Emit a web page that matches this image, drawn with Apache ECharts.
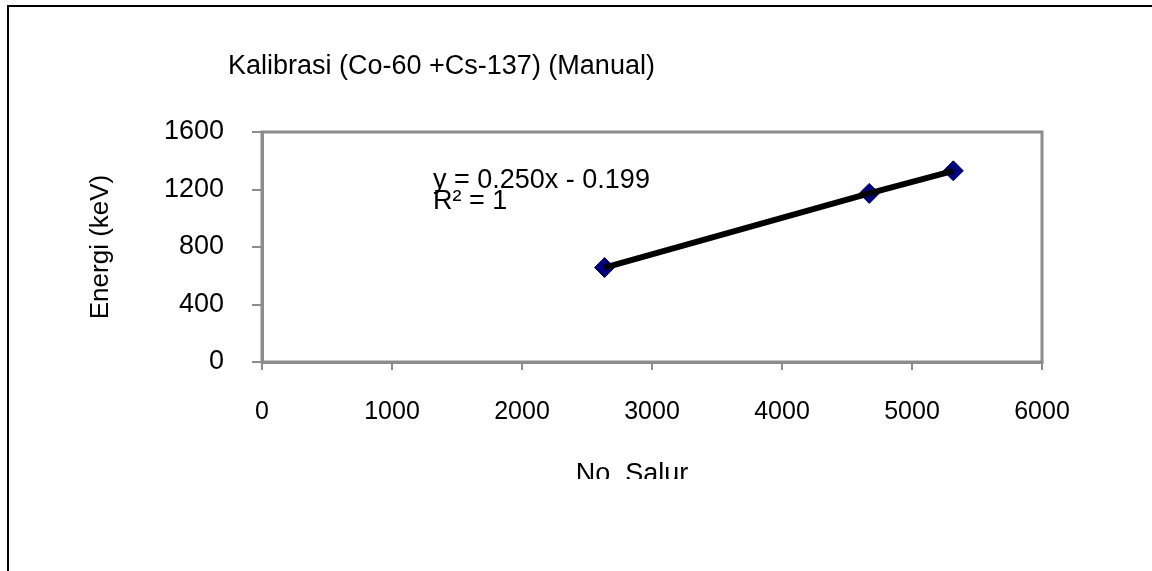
<!DOCTYPE html>
<html>
<head>
<meta charset="utf-8">
<script src="https://cdn.jsdelivr.net/npm/echarts@6/dist/echarts.min.js"></script>
<style>
html,body{margin:0;padding:0;background:#fff;}
#chart{width:1152px;height:571px;}
</style>
</head>
<body>
<div id="chart"></div>
<script>
// Data
const channels = [2635, 4671, 5318];      // No. Salur
const energies = [657, 1173, 1330];       // Energi (keV)
const xTicks = [0, 1000, 2000, 3000, 4000, 5000, 6000];
const yTicks = [0, 400, 800, 1200, 1600];
const titleText = 'Kalibrasi (Co-60 +Cs-137) (Manual)';
const xName = 'No. Salur';
const yName = 'Energi (keV)';
const eqLines = ['y = 0.250x - 0.199', 'R² = 1'];

const points = channels.map((x, i) => [x, energies[i]]);
const FONT = '"Liberation Sans", Arial, sans-serif';

const chart = echarts.init(document.getElementById('chart'), null, {renderer: 'canvas'});
chart.setOption({
  animation: false,
  backgroundColor: '#ffffff',
  grid: {
    left: 262, right: 110, top: 132, bottom: 209,
    show: true, borderColor: '#8c8c8c', borderWidth: 3, backgroundColor: '#ffffff'
  },
  xAxis: {
    type: 'value', min: xTicks[0], max: xTicks[xTicks.length - 1], interval: 1000,
    name: xName, nameLocation: 'middle', nameGap: 99,
    nameTextStyle: {fontFamily: FONT, fontSize: 27, color: '#000', padding: [0, 40, 0, 0]},
    axisLine: {show: true, onZero: false, lineStyle: {color: '#8c8c8c', width: 3}},
    axisTick: {show: true, length: 8, lineStyle: {color: '#8c8c8c', width: 2}},
    axisLabel: {margin: 38, fontFamily: FONT, fontSize: 25, color: '#000',
      formatter: v => String(v)},
    splitLine: {show: false}
  },
  yAxis: {
    type: 'value', min: yTicks[0], max: yTicks[yTicks.length - 1], interval: 400,
    name: yName, nameLocation: 'middle', nameGap: 148,
    nameTextStyle: {fontFamily: FONT, fontSize: 26, color: '#000'},
    axisLine: {show: true, onZero: false, lineStyle: {color: '#8c8c8c', width: 3}},
    axisTick: {show: true, length: 10, lineStyle: {color: '#8c8c8c', width: 2}},
    axisLabel: {margin: 38, fontFamily: FONT, fontSize: 27, color: '#000',
      formatter: v => String(v)},
    splitLine: {show: false}
  },
  series: [
    {
      type: 'scatter', data: points, symbol: 'diamond', symbolSize: 20, z: 2,
      itemStyle: {color: '#000080', borderColor: '#00004a', borderWidth: 1, opacity: 1}
    },
    {
      type: 'line', data: points, showSymbol: false, symbol: 'none', z: 3,
      lineStyle: {color: '#000000', width: 6}
    }
  ],
  graphic: [
    {
      type: 'polyline', z: 100,
      shape: {points: [[1152, 6], [8, 6], [8, 571]]},
      style: {stroke: '#000', lineWidth: 2, fill: null}
    },
    {
      type: 'text', left: 228, top: 53, z: 100,
      style: {text: titleText, font: '27px ' + FONT, fill: '#000'}
    },
    {
      type: 'text', left: 433, top: 167, z: 100,
      style: {text: eqLines.join('\n'), font: '27px ' + FONT, lineHeight: 21, fill: '#000'}
    },
    {
      type: 'rect', z: 90, shape: {x: 20, y: 479, width: 1132, height: 92},
      style: {fill: '#ffffff'}
    }
  ]
});
</script>
</body>
</html>
